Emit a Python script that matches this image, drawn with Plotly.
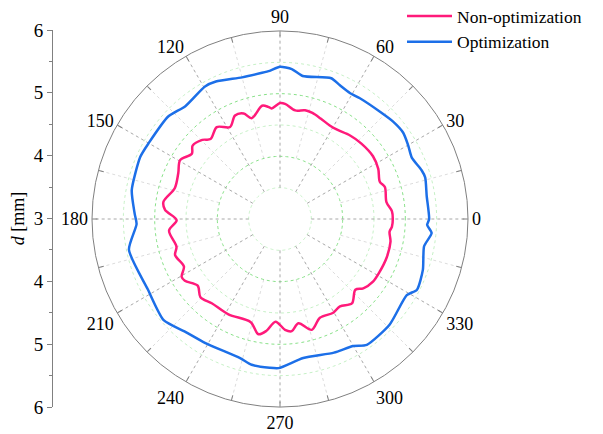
import plotly.graph_objects as go

# ---- data ----
non_opt_theta = [0, 4, 9, 17, 20.5, 27, 34, 43, 50, 57.7, 62, 68, 73, 77, 82, 87.5, 90, 94.3, 96, 99,
                 105.7, 109, 113.5, 118.5, 124.5, 131, 134.5, 140, 143.5, 149.5, 155.8, 163.7, 171.6, 175.5,
                 180.6, 186, 195, 199, 206.3, 210.4, 213, 219, 224.5, 231, 241.6, 254, 259.4, 263, 267.5,
                 272.6, 276, 280, 286, 292, 299.6, 304.5, 310.4, 316.8, 320.2, 326, 332, 340, 348.4, 353.4, 356]
non_opt_r = [4.80, 4.79, 4.72, 4.75, 4.70, 4.76, 4.79, 4.77, 4.74, 4.69, 4.69, 4.73, 4.77, 4.78, 4.75, 4.84, 4.85, 4.77, 4.80, 4.83,
             4.67, 4.78, 4.80, 4.67, 4.78, 4.69, 4.77, 4.82, 4.75, 4.85, 4.78, 4.75, 4.88, 4.84,
             4.65, 4.78, 4.71, 4.77, 4.71, 4.82, 4.81, 4.69, 4.78, 4.73, 4.73, 4.71, 4.87, 4.80, 4.64,
             4.77, 4.80, 4.69, 4.84, 4.70, 4.72, 4.69, 4.77, 4.65, 4.73, 4.79, 4.80, 4.81, 4.80, 4.76, 4.79]

opt_theta = [0, 9, 16, 19, 25, 30, 35, 41, 47, 56.5, 61, 66, 70, 81, 85.5, 90, 94, 97, 105, 115, 119.5,
             130, 137.5, 150, 156, 169, 178, 182, 191.5, 208, 221, 230, 239, 254, 259, 266, 269.5, 279.5,
             292, 300, 304.6, 316, 329, 332.7, 340.4, 349.3, 354.7, 357.7]
opt_r = [5.38, 5.37, 5.41, 5.39, 5.32, 5.36, 5.40, 5.38, 5.34, 5.31, 5.30, 5.34, 5.39, 5.31, 5.40, 5.43, 5.37, 5.35, 5.34, 5.42, 5.43,
         5.35, 5.42, 5.42, 5.44, 5.41, 5.32, 5.29, 5.46, 5.39, 5.46, 5.35, 5.31, 5.31, 5.37, 5.38, 5.38, 5.25,
         5.30, 5.34, 5.44, 5.43, 5.36, 5.46, 5.42, 5.34, 5.43, 5.35]

angle_labels = ["0", "30", "60", "90", "120", "150", "180", "210", "240", "270", "300", "330"]
d_tick_labels = ["6", "5", "4", "3", "4", "5", "6"]

PINK = "#FF1A7A"
BLUE = "#1C6FE8"
FONT = "Liberation Serif"

fig = go.Figure()

# ---- polar grid drawn as helper lines ----
def radial_lines(angles, r0, r1):
    th, rr = [], []
    for a in angles:
        th += [a, a, None]
        rr += [r0, r1, None]
    return th, rr

def circle(rv):
    th = list(range(0, 361, 2))
    return th, [rv] * len(th)

th, rr = radial_lines(range(15, 360, 30), 4, 6)
fig.add_trace(go.Scatterpolar(theta=th, r=rr, mode="lines", line=dict(color="#DCDCDC", width=1, dash="dot"),
                              showlegend=False, hoverinfo="skip"))
for rv in (3.5, 4.5, 5.5):
    th, rr = circle(rv)
    fig.add_trace(go.Scatterpolar(theta=th, r=rr, mode="lines", line=dict(color="#C6F0C6", width=1, dash="dot"),
                                  showlegend=False, hoverinfo="skip"))
for rv in (4, 5):
    th, rr = circle(rv)
    fig.add_trace(go.Scatterpolar(theta=th, r=rr, mode="lines", line=dict(color="#88E088", width=1, dash="dot"),
                                  showlegend=False, hoverinfo="skip"))
th, rr = radial_lines(range(0, 360, 30), 3.5, 6)
fig.add_trace(go.Scatterpolar(theta=th, r=rr, mode="lines", line=dict(color="#A8A8A8", width=1, dash="dot"),
                              showlegend=False, hoverinfo="skip"))

# ---- data curves ----
fig.add_trace(go.Scatterpolar(theta=non_opt_theta + [non_opt_theta[0] + 360], r=non_opt_r + [non_opt_r[0]],
                              mode="lines", name="Non-optimization",
                              line=dict(color=PINK, width=2.5, shape="spline", smoothing=0.9)))
fig.add_trace(go.Scatterpolar(theta=opt_theta + [opt_theta[0] + 360], r=opt_r + [opt_r[0]],
                              mode="lines", name="Optimization",
                              line=dict(color=BLUE, width=2.5, shape="spline", smoothing=0.6)))

# invisible trace to host the left d-axis
fig.add_trace(go.Scatter(x=[0], y=[0], mode="markers", marker=dict(opacity=0), showlegend=False,
                         hoverinfo="skip", xaxis="x", yaxis="y"))

# the page adds an 8px body margin, so the figure is 8px smaller and coordinates are offset
OFF = 8
W, H = 603 - OFF, 434 - OFF
def fx(px):
    return (px - OFF) / W
def fy(py):
    return (434 - py) / H

tickvals = list(range(0, 360, 15))
ticktext = [angle_labels[i // 2] if i % 2 == 0 else "" for i in range(len(tickvals))]

fig.update_layout(
    width=W, height=H,
    margin=dict(l=0, r=0, t=0, b=0, autoexpand=False),
    paper_bgcolor="white", plot_bgcolor="white",
    font=dict(family=FONT, size=17, color="black"),
    polar=dict(
        domain=dict(x=[fx(92), fx(468)], y=[fy(407), fy(31)]),
        bgcolor="white",
        radialaxis=dict(range=[3, 6], showgrid=False, showline=False, showticklabels=False, ticks=""),
        angularaxis=dict(rotation=0, direction="counterclockwise", tickmode="array",
                         tickvals=tickvals, ticktext=ticktext, showgrid=False,
                         showline=True, linecolor="#808080", linewidth=1,
                         ticks="inside", ticklen=5, tickcolor="#808080",
                         tickfont=dict(family=FONT, size=18, color="black")),
    ),
    xaxis=dict(domain=[fx(53), fx(60)], visible=False, range=[-1, 1]),
    yaxis=dict(domain=[fy(407), fy(30)], range=[-3, 3], anchor="x",
               tickmode="array", tickvals=[-3, -2, -1, 0, 1, 2, 3], ticktext=d_tick_labels,
               ticks="outside", ticklen=5, tickcolor="#808080",
               minor=dict(dtick=0.5, ticks="outside", ticklen=3, tickcolor="#808080"),
               showline=True, linecolor="#808080", linewidth=1,
               showgrid=False, zeroline=False, automargin=False,
               tickfont=dict(family=FONT, size=19, color="black"),
               title=dict(text="<i>d</i> [mm]", font=dict(family=FONT, size=18), standoff=6)),
    legend=dict(x=fx(402), y=fy(-2), xanchor="left", yanchor="top", bgcolor="rgba(0,0,0,0)",
                font=dict(family=FONT, size=17.5, color="black"), itemwidth=45, tracegroupgap=0),
)

fig.write_html("out.html")
